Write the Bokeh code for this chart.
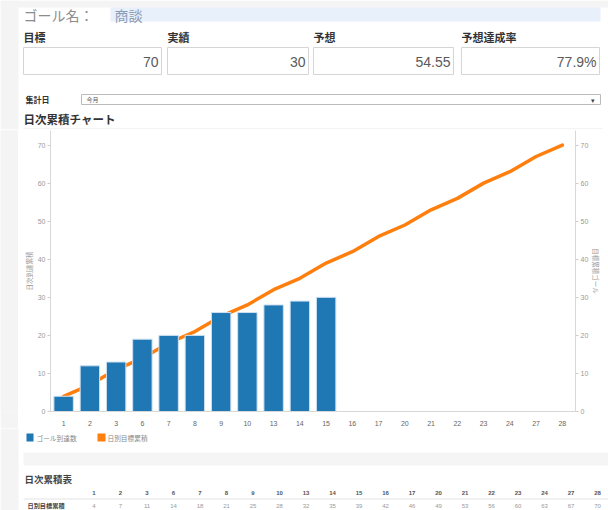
from bokeh.plotting import figure
from bokeh.layouts import column, row
from bokeh.models import Range1d, FactorRange, LinearAxis, FixedTicker
from bokeh.core.properties import value
from bokeh.embed import file_html
from bokeh.resources import INLINE

# ---------------- data ----------------
goal_label = "ゴール名："
goal_name = "商談"
kpi_labels = ["目標", "実績", "予想", "予想達成率"]
kpi_values = ["70", "30", "54.55", "77.9%"]
period_label = "集計日"
period_value = "今月"
chart_title = "日次累積チャート"
table_title = "日次累積表"
days = ["1", "2", "3", "6", "7", "8", "9", "10", "13", "14",
        "15", "16", "17", "20", "21", "22", "23", "24", "27", "28"]
actual_days = ["1", "2", "3", "6", "7", "8", "9", "10", "13", "14", "15"]
actual_cum = [4, 12, 13, 19, 20, 20, 26, 26, 28, 29, 30]
target_cum = [4, 7, 11, 14, 18, 21, 25, 28, 32, 35,
              39, 42, 46, 49, 53, 56, 60, 63, 67, 70]
actual_name = "ゴール到達数"
target_name = "日別目標累積"
left_axis_title = "日次到達累積"
right_axis_title = "目標累積ゴール"
table_row_label = "日別目標累積"
y_ticks = [0, 10, 20, 30, 40, 50, 60, 70]

# ---------------- style ----------------
JP = "Noto Sans CJK JP"
NUM = "Liberation Sans"
BLUE = "#1f77b4"
ORANGE = "#ff7f0e"
STRIP = "#f4f4f4"
W = 608


def canvas(w, h):
    f = figure(width=w, height=h, x_range=Range1d(0, w), y_range=Range1d(h, 0),
               output_backend="svg", toolbar_location=None, min_border=0,
               x_axis_location=None, y_axis_location=None,
               outline_line_color=None)
    f.grid.visible = False
    return f


# ---------------- header ----------------
HH = 129
hd = canvas(W, HH)
hd.quad(left=[0], right=[W], top=[0], bottom=[7], fill_color=STRIP, line_color=None)
hd.quad(left=[0], right=[18], top=[0], bottom=[HH], fill_color=STRIP, line_color=None)
hd.text(x=[23], y=[14], text=[goal_label], text_font=value(JP), text_font_size="14px",
        text_color="#8c8c8c", text_baseline="middle")
hd.quad(left=[110], right=[600], top=[7], bottom=[21], fill_color="#e8f0fb", line_color=None)
hd.text(x=[114], y=[14], text=[goal_name], text_font=value(JP), text_font_size="14px",
        text_color="#8b9bb4", text_baseline="middle")

box_left = [23, 167, 313, 461]
box_right = [161, 308, 453, 599]
hd.text(x=box_left, y=[36] * 4, text=kpi_labels, text_font=value(JP), text_font_size="11px",
        text_font_style="bold", text_color="#333333", text_baseline="middle")
hd.quad(left=box_left, right=box_right, top=[47] * 4, bottom=[74] * 4,
        fill_color="white", line_color="#d5d5d5")
hd.text(x=[r - 3 for r in box_right], y=[61] * 4, text=kpi_values, text_font=value(NUM),
        text_font_size="14px", text_color="#5a5a5a", text_align="right", text_baseline="middle")

hd.text(x=[25], y=[99], text=[period_label], text_font=value(JP), text_font_size="8px",
        text_font_style="bold", text_color="#333333", text_baseline="middle")
hd.quad(left=[81], right=[600], top=[94], bottom=[104], fill_color="white", line_color="#bbbbbb")
hd.text(x=[86], y=[99], text=[period_value], text_font=value(JP), text_font_size="6px",
        text_color="#555555", text_baseline="middle")
hd.text(x=[592], y=[99], text=["▾"], text_font=value(JP), text_font_size="7px",
        text_color="#444444", text_baseline="middle", text_align="center")
hd.text(x=[23], y=[118], text=[chart_title], text_font=value(JP), text_font_size="11.5px",
        text_font_style="bold", text_color="#333333", text_baseline="middle")
hd.segment(x0=[23], y0=[128.5], x1=[602], y1=[128.5], line_color="#e6e6e6", line_width=1)

# ---------------- chart ----------------
CH = 299
YMAX = 73.83
strip = figure(width=18, height=CH, output_backend="svg", toolbar_location=None,
               min_border=0, x_axis_location=None, y_axis_location=None,
               outline_line_color=None, background_fill_color=STRIP,
               border_fill_color=STRIP)
strip.grid.visible = False

p = figure(width=W - 18, height=CH, x_range=FactorRange(*days), y_range=Range1d(0, YMAX),
           output_backend="svg", toolbar_location=None,
           min_border_left=32, min_border_right=33, min_border_top=1, min_border_bottom=15,
           outline_line_color=None)
p.extra_y_ranges = {"target": Range1d(0, YMAX)}
p.grid.visible = False

p.line(x=days, y=target_cum, y_range_name="target", line_color=ORANGE, line_width=3.5,
       line_join="round", line_cap="round")
p.vbar(x=actual_days, top=actual_cum, bottom=0, width=0.74, fill_color=BLUE,
       line_color="#cfe1f1", line_width=1)

xa = p.xaxis[0]
xa.axis_line_color = "#d8d8d8"
xa.major_tick_line_color = None
xa.major_label_standoff = 3
xa.major_label_text_font = NUM
xa.major_label_text_font_size = "7px"
xa.major_label_text_color = "#666666"

ra = LinearAxis(y_range_name="target")
p.add_layout(ra, "right")

for ax, title, stand in ((p.yaxis[0], left_axis_title, 1), (ra, right_axis_title, 0)):
    ax.ticker = FixedTicker(ticks=y_ticks)
    ax.axis_line_color = "#d8d8d8"
    ax.major_tick_out = 3
    ax.major_tick_in = 0
    ax.major_tick_line_color = "#cccccc"
    ax.minor_tick_line_color = None
    ax.major_label_standoff = 2
    ax.major_label_text_font = NUM
    ax.major_label_text_font_size = "7px"
    ax.major_label_text_color = "#999999"
    ax.axis_label = title
    ax.axis_label_standoff = stand
    ax.axis_label_text_font = JP
    ax.axis_label_text_font_style = "normal"
    ax.axis_label_text_font_size = "6.5px"
    ax.axis_label_text_color = "#999999"

# ---------------- legend + table ----------------
BH = 510 - HH - CH
bt = canvas(W, BH)
bt.quad(left=[0], right=[18], top=[0], bottom=[BH], fill_color=STRIP, line_color=None)
bt.quad(left=[26, 97], right=[33, 105], top=[5, 5], bottom=[13, 13],
        fill_color=[BLUE, ORANGE], line_color=None)
bt.text(x=[36, 107], y=[9, 9], text=[actual_name, target_name], text_font=value(JP),
        text_font_size="6.7px", text_color="#888888", text_baseline="middle")
bt.quad(left=[23], right=[W], top=[24], bottom=[37], fill_color="#f5f5f5", line_color=None)
bt.text(x=[24], y=[50], text=[table_title], text_font=value(JP), text_font_size="9.5px",
        text_font_style="bold", text_color="#444444", text_baseline="middle")
col_x = [93.5 + 26.5 * i for i in range(len(days))]
bt.text(x=col_x, y=[64] * len(days), text=days, text_font=value(NUM), text_font_size="6px",
        text_font_style="bold", text_color="#555555", text_align="center", text_baseline="middle")
bt.segment(x0=[23], y0=[70.5], x1=[W], y1=[70.5], line_color="#e3e3e3", line_width=1)
bt.text(x=[27], y=[77], text=[table_row_label], text_font=value(JP), text_font_size="6.2px",
        text_font_style="bold", text_color="#444444", text_baseline="middle")
bt.text(x=col_x, y=[77] * len(days), text=[str(v) for v in target_cum], text_font=value(NUM),
        text_font_size="6px", text_color="#999999", text_align="center", text_baseline="middle")

layout = column(hd, row(strip, p), bt)
open("out.html", "w").write(file_html(layout, INLINE))
